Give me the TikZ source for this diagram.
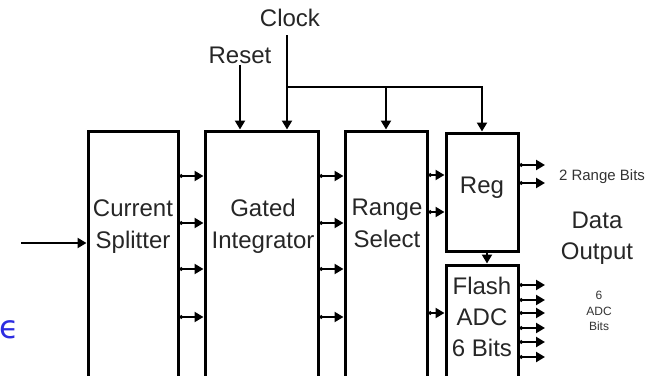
\documentclass[tikz,border=0pt]{standalone}
\usepackage{fontspec}
\setmainfont{Liberation Sans}
\newfontfamily\epsfont{DejaVu Sans}
\usetikzlibrary{arrows.meta}
\definecolor{epsblue}{RGB}{45,45,225}

\begin{document}
\begin{tikzpicture}[x=1pt,y=-1pt,
  blk/.style={draw,line width=3pt,inner sep=0pt},
  sig/.style={line width=2.8pt,{Circle[length=3.5pt]}-{Triangle[length=9pt,width=10pt]}},
  clk/.style={line width=2.8pt,-{Triangle[length=9pt,width=10pt]}},
  lbl/.style={font={\fontsize{24}{32}\selectfont},text=black!85,align=center,inner sep=1pt},
  small/.style={font={\fontsize{15}{18}\selectfont},text=black!80,inner sep=1pt}]
\useasboundingbox (0,0) rectangle (656,375);
\clip (0,0) rectangle (656,375);

% blocks, cut off at the bottom
\node[blk,minimum width=90pt,minimum height=260pt] (cs) at (133,261) {};
\node[blk,minimum width=113pt,minimum height=260pt] (gi) at (261.5,261) {};
\node[blk,minimum width=82pt,minimum height=260pt] (rs) at (386,261) {};
\node[blk,minimum width=72pt,minimum height=118pt] (reg) at (482,192) {};
\node[blk,minimum width=72pt,minimum height=126pt] (adc) at (482,328) {};

% block texts
\node[lbl] (csT) at (133,227) {Current\\Splitter};
\node[lbl] (giT) at (263,226) {Gated\\Integrator};
\node[lbl] (rsT) at (387,223) {Range\\Select};
\node[lbl] (regT) at (482,188) {Reg};
\node[lbl,font={\fontsize{24}{31}\selectfont}] (adcT) at (482,317) {Flash\\ADC\\6 Bits};

% outside texts
\node[lbl] (clock) at (290,18) {Clock};
\node[lbl] (reset) at (240,55) {Reset};
\node[lbl,font={\fontsize{24}{31}\selectfont}] (dout) at (597,238) {Data\\Output};
\node[small] (rbitsT) at (602,177) {2 Range Bits};
\node[small,font={\fontsize{12}{15.5}\selectfont},align=center] (abitsT) at (599,311) {6\\ADC\\Bits};
\node[text=epsblue,font={\epsfont\fontsize{32}{32}\selectfont},inner sep=0pt] (eps) at (9,330) {ϵ};

\coordinate (in) at (21,243);
\coordinate (ck) at (287,35);
\coordinate (bus) at (287,87);
\coordinate (outx) at (545,0);

% input, reset and clock
\draw[clk] (in) -- (cs.west |- in);
\draw[clk] (reset.south) -- (reset.south |- gi.north);
\draw[clk] (ck) -- (ck |- gi.north);
\draw[clk] (bus) -| (reg.north);
\draw[clk] (bus -| rs.north) -- (rs.north);

% data paths
\foreach \y in {176,223,269,317} {
  \draw[sig] (cs.east |- 0,\y) -- (gi.west |- 0,\y);
  \draw[sig] (gi.east |- 0,\y) -- (rs.west |- 0,\y);
}
\foreach \y in {175,212} \draw[sig] (rs.east |- 0,\y) -- (reg.west |- 0,\y);
\draw[sig] (rs.east |- 0,313) -- (adc.west |- 0,313);
\draw[clk] ([xshift=5pt]reg.south) -- ([xshift=5pt]adc.north);

% outputs
\foreach \y in {165,183} \draw[sig] (reg.east |- 0,\y) -- (outx |- 0,\y);
\foreach \y in {285,300,313,328,342,357} \draw[sig] (adc.east |- 0,\y) -- (outx |- 0,\y);
\end{tikzpicture}
\end{document}
